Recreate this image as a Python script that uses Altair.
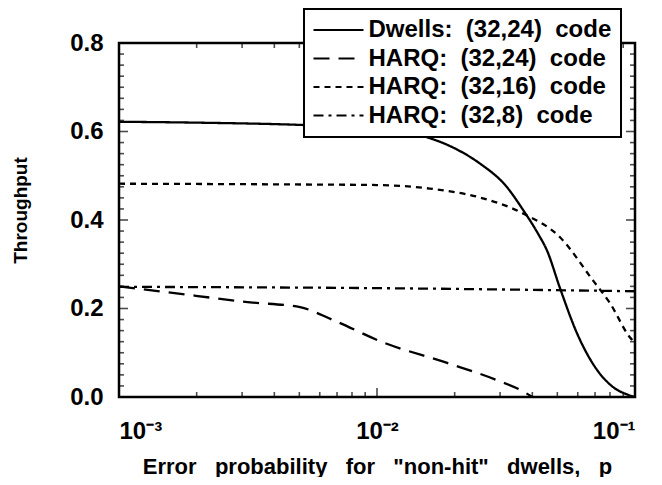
import altair as alt
import pandas as pd

NB = "\u00a0"

# ---- data ----
series_names = [
    f"Dwells:{NB} (32,24){NB} code",
    f"HARQ:{NB} (32,24){NB} code",
    f"HARQ:{NB} (32,16){NB} code",
    f"HARQ:{NB} (32,8){NB} code",
]

dwells_2424_p = [0.001, 0.002, 0.005, 0.01, 0.0126, 0.016, 0.02, 0.025, 0.0316, 0.037, 0.042, 0.0456, 0.0512, 0.0596, 0.0713, 0.082, 0.094, 0.1]
dwells_2424_t = [0.622, 0.620, 0.615, 0.607, 0.600, 0.585, 0.562, 0.528, 0.477, 0.421, 0.370, 0.331, 0.246, 0.144, 0.061, 0.023, 0.005, 0.0]

harq_2424_p = [0.001, 0.00153, 0.00322, 0.00503, 0.00675, 0.0105, 0.0187, 0.0292, 0.0365, 0.040]
harq_2424_t = [0.250, 0.237, 0.214, 0.203, 0.174, 0.124, 0.077, 0.038, 0.014, 0.0]

harq_3216_p = [0.001, 0.003, 0.006, 0.01, 0.016, 0.025, 0.0368, 0.0512, 0.0686, 0.080, 0.0955, 0.1]
harq_3216_t = [0.482, 0.481, 0.480, 0.479, 0.471, 0.451, 0.415, 0.361, 0.264, 0.212, 0.135, 0.122]

harq_328_p = [0.001, 0.01, 0.1]
harq_328_t = [0.249, 0.246, 0.239]

x_tick_values = [0.001, 0.01, 0.1]
x_tick_labels = ["10\u207b\u00b3", "10\u207b\u00b2", "10\u207b\u00b9"]
y_tick_values = [0.0, 0.2, 0.4, 0.6, 0.8]

x_minor_ticks = [0.002, 0.003, 0.004, 0.005, 0.006, 0.007, 0.008, 0.009,
                 0.02, 0.03, 0.04, 0.05, 0.06, 0.07, 0.08, 0.09]
x_major_ticks = [0.01]
y_minor_ticks = [round(0.025 * k, 3) for k in range(1, 32) if k % 8 != 0]
y_major_ticks = [0.2, 0.4, 0.6]

dash_styles = [[1, 0], [16, 9], [6, 5], [10, 5, 3, 5]]

x_title = f"Error{NB}{NB} probability{NB}{NB} for{NB}{NB} \"non-hit\"{NB}{NB} dwells,{NB}{NB} p"
y_title = "Throughput"

# ---- table ----
rows = []
for name, ps, ts in zip(series_names,
                        [dwells_2424_p, harq_2424_p, harq_3216_p, harq_328_p],
                        [dwells_2424_t, harq_2424_t, harq_3216_t, harq_328_t]):
    for p, t in zip(ps, ts):
        rows.append({"series": name, "p": p, "throughput": t})
df = pd.DataFrame(rows)

FONT = "Liberation Sans"
x_scale = alt.Scale(type="log", domain=[0.001, 0.1])
y_scale = alt.Scale(domain=[0, 0.8])

label_expr = " : ".join(
    [f"datum.value == {v} ? '{l}'" for v, l in zip(x_tick_values[:-1], x_tick_labels[:-1])]
    + [f"'{x_tick_labels[-1]}'"]
)

x_axis = alt.Axis(values=x_tick_values, labelExpr=label_expr,
                  labelFontSize=24, labelPadding=22,
                  title=x_title, titleFontSize=22,
                  titleX=258, titleY=76, titleBaseline="alphabetic", titleAlign="center")
y_axis = alt.Axis(values=y_tick_values, format=".1f",
                  labelFontSize=24, labelPadding=16,
                  title=y_title, titleFontSize=19,
                  titleX=-99, titleY=167, titleAngle=270,
                  titleAlign="center", titleBaseline="middle")

lines = alt.Chart(df).mark_line(strokeWidth=2.3, color="black", interpolate="monotone").encode(
    x=alt.X("p:Q", scale=x_scale, axis=x_axis),
    y=alt.Y("throughput:Q", scale=y_scale, axis=y_axis),
    strokeDash=alt.StrokeDash(
        "series:N",
        scale=alt.Scale(domain=series_names, range=dash_styles),
        legend=alt.Legend(
            title=None, orient="none", legendX=185, legendY=-34,
            strokeColor="black", fillColor="white", padding=9,
            symbolType="M-2.5,0H2.5", symbolSize=400, symbolStrokeWidth=2.2,
            symbolStrokeColor="black", symbolOffset=13.5,
            labelFont=FONT, labelFontWeight="bold", labelFontSize=24,
            labelColor="black", labelLimit=0, labelOffset=18, rowPadding=4.5,
        ),
    ),
    order="p:Q",
)


def xticks(vals, size, at_y, sign):
    return alt.Chart(pd.DataFrame({"v": vals})).mark_tick(
        orient="vertical", size=size, thickness=1.6, color="black",
        yOffset=sign * size / 2).encode(
        x=alt.X("v:Q", scale=x_scale, axis=x_axis),
        y=alt.YDatum(at_y, scale=y_scale, axis=y_axis),
    )


def yticks(vals, size, at_x, sign):
    return alt.Chart(pd.DataFrame({"v": vals})).mark_tick(
        orient="horizontal", size=size, thickness=1.6, color="black",
        xOffset=sign * size / 2).encode(
        y=alt.Y("v:Q", scale=y_scale, axis=y_axis),
        x=alt.XDatum(at_x, scale=x_scale, axis=x_axis),
    )


ticks = [
    xticks(x_minor_ticks, 5, 0.0, -1), xticks(x_major_ticks, 9, 0.0, -1),
    xticks(x_minor_ticks, 5, 0.8, 1), xticks(x_major_ticks, 9, 0.8, 1),
    yticks(y_minor_ticks, 5, 0.001, 1), yticks(y_major_ticks, 9, 0.001, 1),
    yticks(y_minor_ticks, 5, 0.1, -1), yticks(y_major_ticks, 9, 0.1, -1),
]

chart = alt.layer(lines, *ticks).properties(
    width=516, height=354,
    autosize=alt.AutoSizeParams(type="none"),
    padding={"left": 111, "top": 35, "right": 19, "bottom": 80},
    background="white",
).configure_view(
    stroke="black", strokeWidth=2.5
).configure_axis(
    domain=False, ticks=False, grid=False,
    labelFont=FONT, labelFontWeight="bold", labelColor="black",
    titleFont=FONT, titleFontWeight="bold", titleColor="black",
).configure_legend(
    strokeWidth=2
)

chart.save("out.html", embed_options={"renderer": "svg", "actions": False})
